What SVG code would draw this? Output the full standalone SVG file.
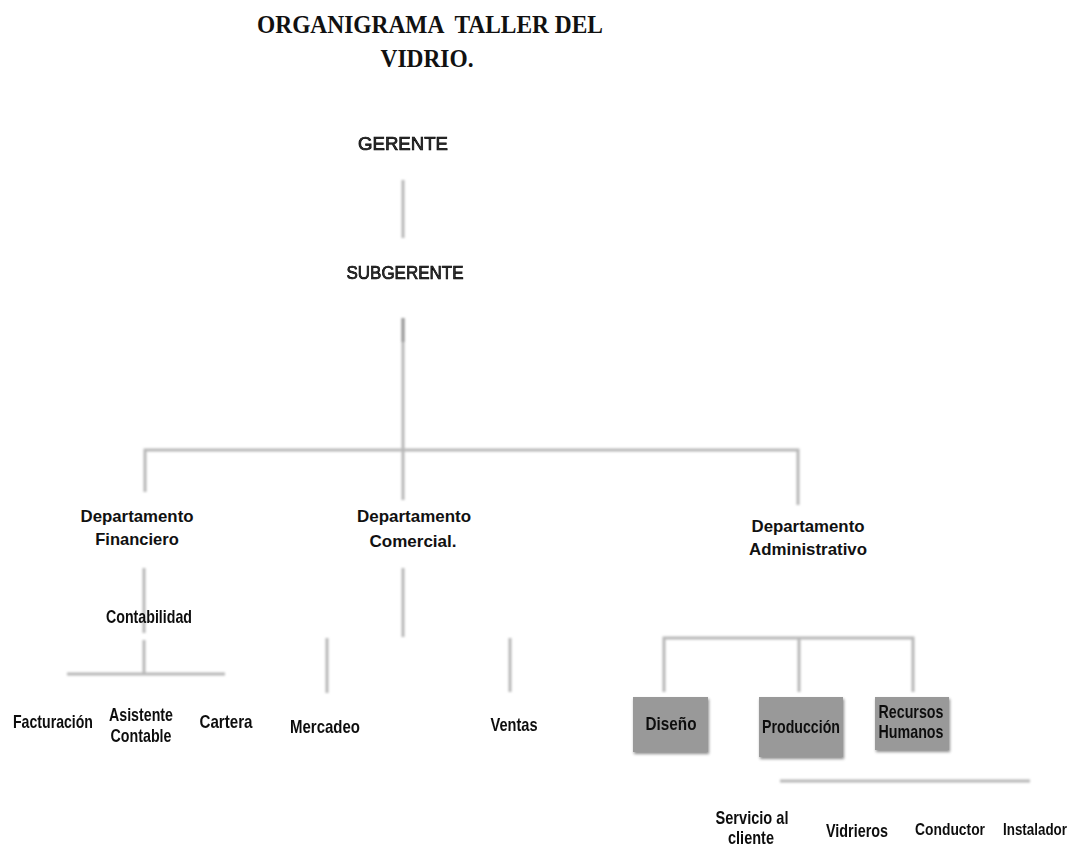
<svg xmlns="http://www.w3.org/2000/svg" width="1084" height="848" viewBox="0 0 1084 848">
<defs>
<filter id="soft" x="-5%" y="-5%" width="110%" height="110%"><feGaussianBlur stdDeviation="0.8"/></filter>
<filter id="txt" x="-5%" y="-20%" width="110%" height="140%"><feGaussianBlur stdDeviation="0.35"/></filter>
<filter id="shadow" x="-20%" y="-20%" width="140%" height="140%">
<feGaussianBlur in="SourceAlpha" stdDeviation="1.5"/><feOffset dx="1" dy="2" result="o"/>
<feFlood flood-color="#000" flood-opacity="0.45"/><feComposite in2="o" operator="in" result="s"/>
<feMerge><feMergeNode in="s"/><feMergeNode in="SourceGraphic"/></feMerge></filter>
</defs>
<style>
.title{font-family:"Liberation Sans",Arial,sans-serif;font-family:"Liberation Serif","Times New Roman",serif;font-weight:bold;font-size:26px;fill:#111;text-anchor:middle}
.top{font-family:"Liberation Sans",Arial,sans-serif;font-size:18px;fill:#333;stroke:#000;stroke-width:0.7;text-anchor:middle}
.dept{font-family:"Liberation Sans",Arial,sans-serif;font-weight:bold;font-size:16.5px;fill:#111;text-anchor:middle}
.lbl{font-family:"Liberation Sans",Arial,sans-serif;font-weight:bold;font-size:19px;fill:#111;text-anchor:middle}
.sm{font-size:17px}
.box{fill:#999;stroke:none}
.ln{stroke:#b8b8b8;stroke-width:3;fill:none;stroke-linecap:butt}
</style>
<rect width="1084" height="848" fill="#fff"/>
<g id="title">
<text class="title" x="430" y="33" textLength="346" lengthAdjust="spacingAndGlyphs" xml:space="preserve">ORGANIGRAMA  TALLER DEL</text>
<text class="title" x="427" y="67" textLength="93" lengthAdjust="spacingAndGlyphs">VIDRIO.</text>
</g>
<g id="connectors" filter="url(#soft)">
<line class="ln" x1="403" y1="180" x2="403" y2="238"/>
<line class="ln" x1="403" y1="318" x2="403" y2="500"/>
<line x1="403" y1="318" x2="403" y2="342" stroke="#999" stroke-width="3"/>
<polyline class="ln" points="145,492 145,450 798,450 798,505"/>
<line class="ln" x1="144" y1="568" x2="144" y2="633"/>
<line class="ln" x1="144" y1="640" x2="144" y2="674"/>
<line class="ln" x1="67" y1="674" x2="225" y2="674"/>
<line class="ln" x1="403" y1="568" x2="403" y2="637"/>
<line class="ln" x1="327" y1="638" x2="327" y2="693"/>
<line class="ln" x1="510" y1="638" x2="510" y2="692"/>
<polyline class="ln" points="664,692 664,638 913,638 913,692"/>
<line class="ln" x1="799" y1="638" x2="799" y2="692"/>
<line class="ln" x1="780" y1="781" x2="1030" y2="781"/>
</g>
<g id="gerente" filter="url(#txt)"><text class="top" x="403" y="150" textLength="90" lengthAdjust="spacingAndGlyphs">GERENTE</text></g>
<g id="subgerente" filter="url(#txt)"><text class="top" x="405" y="279" textLength="117" lengthAdjust="spacingAndGlyphs">SUBGERENTE</text></g>
<g id="dep-financiero"><text class="dept" x="137" y="522" textLength="113" lengthAdjust="spacingAndGlyphs">Departamento</text><text class="dept" x="137" y="545">Financiero</text></g>
<g id="dep-comercial"><text class="dept" x="414" y="522" textLength="114" lengthAdjust="spacingAndGlyphs">Departamento</text><text class="dept" x="413" y="547" textLength="87" lengthAdjust="spacingAndGlyphs">Comercial.</text></g>
<g id="dep-administrativo"><text class="dept" x="808" y="532" textLength="113" lengthAdjust="spacingAndGlyphs">Departamento</text><text class="dept" x="808" y="555" textLength="118" lengthAdjust="spacingAndGlyphs">Administrativo</text></g>
<g id="contabilidad" filter="url(#txt)"><text class="lbl" x="149" y="623" textLength="86" lengthAdjust="spacingAndGlyphs">Contabilidad</text></g>
<g id="facturacion" filter="url(#txt)"><text class="lbl" x="53" y="728" textLength="80" lengthAdjust="spacingAndGlyphs">Facturación</text></g>
<g id="asistente" filter="url(#txt)"><text class="lbl" x="141" y="721" textLength="64" lengthAdjust="spacingAndGlyphs">Asistente</text><text class="lbl" x="141" y="742" textLength="61" lengthAdjust="spacingAndGlyphs">Contable</text></g>
<g id="cartera" filter="url(#txt)"><text class="lbl" x="226" y="728" textLength="53" lengthAdjust="spacingAndGlyphs">Cartera</text></g>
<g id="mercadeo" filter="url(#txt)"><text class="lbl" x="325" y="733" textLength="70" lengthAdjust="spacingAndGlyphs">Mercadeo</text></g>
<g id="ventas" filter="url(#txt)"><text class="lbl" x="514" y="731" textLength="47" lengthAdjust="spacingAndGlyphs">Ventas</text></g>
<g id="diseno" filter="url(#shadow)"><rect class="box" x="633" y="697" width="75" height="55"/><text class="lbl" x="671" y="730" textLength="51" lengthAdjust="spacingAndGlyphs">Diseño</text></g>
<g id="produccion" filter="url(#shadow)"><rect class="box" x="759" y="697" width="84" height="60"/><text class="lbl" x="801" y="733" textLength="78" lengthAdjust="spacingAndGlyphs">Producción</text></g>
<g id="recursos" filter="url(#shadow)"><rect class="box" x="875" y="697" width="74" height="53"/><text class="lbl" x="911" y="718" textLength="65" lengthAdjust="spacingAndGlyphs">Recursos</text><text class="lbl" x="911" y="738" textLength="65" lengthAdjust="spacingAndGlyphs">Humanos</text></g>
<g id="servicio" filter="url(#txt)"><text class="lbl" x="752" y="824" textLength="73" lengthAdjust="spacingAndGlyphs">Servicio al</text><text class="lbl" x="751" y="844" textLength="46" lengthAdjust="spacingAndGlyphs">cliente</text></g>
<g id="vidrieros" filter="url(#txt)"><text class="lbl" x="857" y="837" textLength="62" lengthAdjust="spacingAndGlyphs">Vidrieros</text></g>
<g id="conductor" filter="url(#txt)"><text class="lbl sm" x="950" y="835" textLength="70" lengthAdjust="spacingAndGlyphs">Conductor</text></g>
<g id="instalador" filter="url(#txt)"><text class="lbl sm" x="1035" y="835" textLength="64" lengthAdjust="spacingAndGlyphs">Instalador</text></g>
</svg>
